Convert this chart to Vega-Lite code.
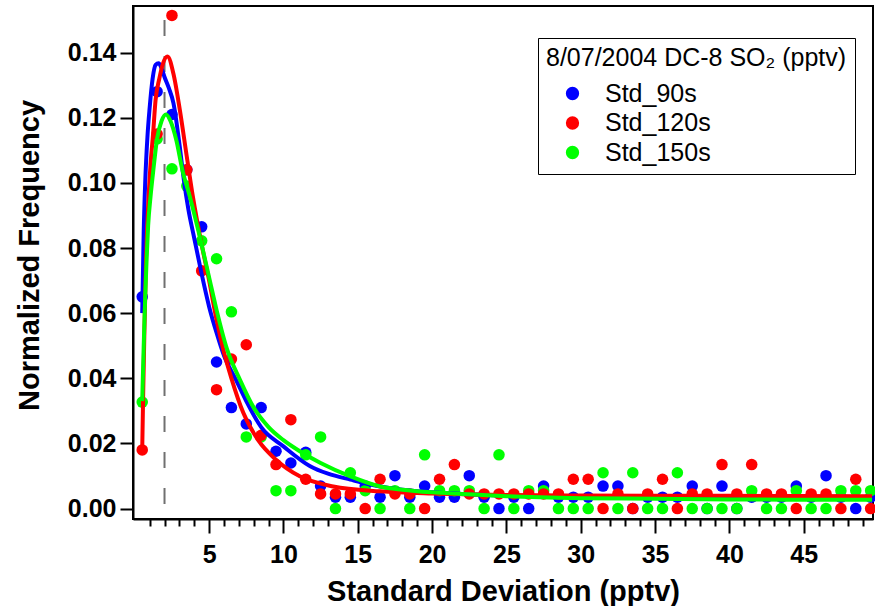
{
  "$schema": "https://vega.github.io/schema/vega-lite/v6.json",
  "width": 740,
  "height": 513,
  "autosize": {"type": "none"},
  "padding": {"left": 133, "top": 6, "right": 2, "bottom": 87},
  "background": "white",
  "config": {"view": {"stroke": "black", "strokeWidth": 2}, "font": "Liberation Sans"},
  "datasets": {
    "pts": [
      {"series": "Std_90s", "x": 0.5, "y": 0.065}, {"series": "Std_90s", "x": 1.5, "y": 0.128}, {"series": "Std_90s", "x": 2.5, "y": 0.121}, {"series": "Std_90s", "x": 3.5, "y": 0.104}, {"series": "Std_90s", "x": 4.5, "y": 0.0865},
      {"series": "Std_90s", "x": 5.5, "y": 0.045}, {"series": "Std_90s", "x": 6.5, "y": 0.031}, {"series": "Std_90s", "x": 7.5, "y": 0.026}, {"series": "Std_90s", "x": 8.5, "y": 0.031}, {"series": "Std_90s", "x": 9.5, "y": 0.0176},
      {"series": "Std_90s", "x": 10.5, "y": 0.014}, {"series": "Std_90s", "x": 11.5, "y": 0.0173}, {"series": "Std_90s", "x": 12.5, "y": 0.0069}, {"series": "Std_90s", "x": 13.5, "y": 0.0035}, {"series": "Std_90s", "x": 14.5, "y": 0.0035},
      {"series": "Std_90s", "x": 15.5, "y": 0.0069}, {"series": "Std_90s", "x": 16.5, "y": 0.0035}, {"series": "Std_90s", "x": 17.5, "y": 0.0101}, {"series": "Std_90s", "x": 18.5, "y": 0.0035}, {"series": "Std_90s", "x": 19.5, "y": 0.0069},
      {"series": "Std_90s", "x": 20.5, "y": 0.0035}, {"series": "Std_90s", "x": 21.5, "y": 0.0035}, {"series": "Std_90s", "x": 22.5, "y": 0.0101}, {"series": "Std_90s", "x": 23.5, "y": 0.0035}, {"series": "Std_90s", "x": 24.5, "y": 0},
      {"series": "Std_90s", "x": 25.5, "y": 0.0035}, {"series": "Std_90s", "x": 26.5, "y": 0}, {"series": "Std_90s", "x": 27.5, "y": 0.0069}, {"series": "Std_90s", "x": 28.5, "y": 0.0035}, {"series": "Std_90s", "x": 29.5, "y": 0.0035},
      {"series": "Std_90s", "x": 30.5, "y": 0.0035}, {"series": "Std_90s", "x": 31.5, "y": 0.0069}, {"series": "Std_90s", "x": 32.5, "y": 0.0069}, {"series": "Std_90s", "x": 33.5, "y": 0}, {"series": "Std_90s", "x": 34.5, "y": 0.0035},
      {"series": "Std_90s", "x": 35.5, "y": 0.0035}, {"series": "Std_90s", "x": 36.5, "y": 0.0035}, {"series": "Std_90s", "x": 37.5, "y": 0.0069}, {"series": "Std_90s", "x": 38.5, "y": 0}, {"series": "Std_90s", "x": 39.5, "y": 0.0069},
      {"series": "Std_90s", "x": 40.5, "y": 0}, {"series": "Std_90s", "x": 41.5, "y": 0.0035}, {"series": "Std_90s", "x": 42.5, "y": 0.0035}, {"series": "Std_90s", "x": 43.5, "y": 0.0035}, {"series": "Std_90s", "x": 44.5, "y": 0.0069},
      {"series": "Std_90s", "x": 45.5, "y": 0.0035}, {"series": "Std_90s", "x": 46.5, "y": 0.0101}, {"series": "Std_90s", "x": 47.5, "y": 0.0035}, {"series": "Std_90s", "x": 48.5, "y": 0}, {"series": "Std_90s", "x": 49.5, "y": 0.0035},

      {"series": "Std_150s", "x": 0.5, "y": 0.0327}, {"series": "Std_150s", "x": 1.5, "y": 0.1135}, {"series": "Std_150s", "x": 2.5, "y": 0.1043}, {"series": "Std_150s", "x": 3.5, "y": 0.099}, {"series": "Std_150s", "x": 4.5, "y": 0.0822},
      {"series": "Std_150s", "x": 5.5, "y": 0.0767}, {"series": "Std_150s", "x": 6.5, "y": 0.0604}, {"series": "Std_150s", "x": 7.5, "y": 0.022}, {"series": "Std_150s", "x": 8.5, "y": 0.022}, {"series": "Std_150s", "x": 9.5, "y": 0.0055},
      {"series": "Std_150s", "x": 10.5, "y": 0.0055}, {"series": "Std_150s", "x": 11.5, "y": 0.0165}, {"series": "Std_150s", "x": 12.5, "y": 0.022}, {"series": "Std_150s", "x": 13.5, "y": 0}, {"series": "Std_150s", "x": 14.5, "y": 0.011},
      {"series": "Std_150s", "x": 15.5, "y": 0.0055}, {"series": "Std_150s", "x": 16.5, "y": 0}, {"series": "Std_150s", "x": 17.5, "y": 0.0055}, {"series": "Std_150s", "x": 18.5, "y": 0}, {"series": "Std_150s", "x": 19.5, "y": 0.0165},
      {"series": "Std_150s", "x": 20.5, "y": 0.0055}, {"series": "Std_150s", "x": 21.5, "y": 0.0055}, {"series": "Std_150s", "x": 22.5, "y": 0.0055}, {"series": "Std_150s", "x": 23.5, "y": 0}, {"series": "Std_150s", "x": 24.5, "y": 0.0165},
      {"series": "Std_150s", "x": 25.5, "y": 0}, {"series": "Std_150s", "x": 26.5, "y": 0.0055}, {"series": "Std_150s", "x": 27.5, "y": 0.0055}, {"series": "Std_150s", "x": 28.5, "y": 0}, {"series": "Std_150s", "x": 29.5, "y": 0},
      {"series": "Std_150s", "x": 30.5, "y": 0}, {"series": "Std_150s", "x": 31.5, "y": 0.011}, {"series": "Std_150s", "x": 32.5, "y": 0}, {"series": "Std_150s", "x": 33.5, "y": 0.011}, {"series": "Std_150s", "x": 34.5, "y": 0},
      {"series": "Std_150s", "x": 35.5, "y": 0}, {"series": "Std_150s", "x": 36.5, "y": 0.011}, {"series": "Std_150s", "x": 37.5, "y": 0}, {"series": "Std_150s", "x": 38.5, "y": 0}, {"series": "Std_150s", "x": 39.5, "y": 0},
      {"series": "Std_150s", "x": 40.5, "y": 0}, {"series": "Std_150s", "x": 41.5, "y": 0.0055}, {"series": "Std_150s", "x": 42.5, "y": 0}, {"series": "Std_150s", "x": 43.5, "y": 0}, {"series": "Std_150s", "x": 44.5, "y": 0.0055},
      {"series": "Std_150s", "x": 45.5, "y": 0}, {"series": "Std_150s", "x": 46.5, "y": 0}, {"series": "Std_150s", "x": 47.5, "y": 0.0055}, {"series": "Std_150s", "x": 48.5, "y": 0.0055}, {"series": "Std_150s", "x": 49.5, "y": 0.0055},

      {"series": "Std_120s", "x": 0.5, "y": 0.018}, {"series": "Std_120s", "x": 1.5, "y": 0.115}, {"series": "Std_120s", "x": 2.5, "y": 0.1514}, {"series": "Std_120s", "x": 3.5, "y": 0.104}, {"series": "Std_120s", "x": 4.5, "y": 0.073},
      {"series": "Std_120s", "x": 5.5, "y": 0.0365}, {"series": "Std_120s", "x": 6.5, "y": 0.0459}, {"series": "Std_120s", "x": 7.5, "y": 0.0503}, {"series": "Std_120s", "x": 8.5, "y": 0.0225}, {"series": "Std_120s", "x": 9.5, "y": 0.0135},
      {"series": "Std_120s", "x": 10.5, "y": 0.0273}, {"series": "Std_120s", "x": 11.5, "y": 0.009}, {"series": "Std_120s", "x": 12.5, "y": 0.0045}, {"series": "Std_120s", "x": 13.5, "y": 0.0045}, {"series": "Std_120s", "x": 14.5, "y": 0.0045},
      {"series": "Std_120s", "x": 15.5, "y": 0}, {"series": "Std_120s", "x": 16.5, "y": 0.009}, {"series": "Std_120s", "x": 17.5, "y": 0.0045}, {"series": "Std_120s", "x": 18.5, "y": 0.0045}, {"series": "Std_120s", "x": 19.5, "y": 0},
      {"series": "Std_120s", "x": 20.5, "y": 0.009}, {"series": "Std_120s", "x": 21.5, "y": 0.0135}, {"series": "Std_120s", "x": 22.5, "y": 0.0045}, {"series": "Std_120s", "x": 23.5, "y": 0.0045}, {"series": "Std_120s", "x": 24.5, "y": 0.0045},
      {"series": "Std_120s", "x": 25.5, "y": 0.0045}, {"series": "Std_120s", "x": 26.5, "y": 0.0045}, {"series": "Std_120s", "x": 27.5, "y": 0.0045}, {"series": "Std_120s", "x": 28.5, "y": 0.0045}, {"series": "Std_120s", "x": 29.5, "y": 0.009},
      {"series": "Std_120s", "x": 30.5, "y": 0.009}, {"series": "Std_120s", "x": 31.5, "y": 0}, {"series": "Std_120s", "x": 32.5, "y": 0.0045}, {"series": "Std_120s", "x": 33.5, "y": 0}, {"series": "Std_120s", "x": 34.5, "y": 0.0045},
      {"series": "Std_120s", "x": 35.5, "y": 0.009}, {"series": "Std_120s", "x": 36.5, "y": 0}, {"series": "Std_120s", "x": 37.5, "y": 0.0045}, {"series": "Std_120s", "x": 38.5, "y": 0.0045}, {"series": "Std_120s", "x": 39.5, "y": 0.0135},
      {"series": "Std_120s", "x": 40.5, "y": 0.0045}, {"series": "Std_120s", "x": 41.5, "y": 0.0135}, {"series": "Std_120s", "x": 42.5, "y": 0.0045}, {"series": "Std_120s", "x": 43.5, "y": 0.0045}, {"series": "Std_120s", "x": 44.5, "y": 0},
      {"series": "Std_120s", "x": 45.5, "y": 0.0045}, {"series": "Std_120s", "x": 46.5, "y": 0.0045}, {"series": "Std_120s", "x": 47.5, "y": 0}, {"series": "Std_120s", "x": 48.5, "y": 0.009}, {"series": "Std_120s", "x": 49.5, "y": 0}
    ],
    "fit": [
      {"series": "Std_90s", "x": 0.5, "y": 0.06}, {"series": "Std_90s", "x": 0.6, "y": 0.085}, {"series": "Std_90s", "x": 0.7, "y": 0.1}, {"series": "Std_90s", "x": 0.85, "y": 0.114},
      {"series": "Std_90s", "x": 1.0, "y": 0.123}, {"series": "Std_90s", "x": 1.2, "y": 0.132}, {"series": "Std_90s", "x": 1.4, "y": 0.1362}, {"series": "Std_90s", "x": 1.6, "y": 0.1367},
      {"series": "Std_90s", "x": 1.8, "y": 0.1352}, {"series": "Std_90s", "x": 2.0, "y": 0.1325}, {"series": "Std_90s", "x": 2.3, "y": 0.129}, {"series": "Std_90s", "x": 2.6, "y": 0.1245},
      {"series": "Std_90s", "x": 3.0, "y": 0.112}, {"series": "Std_90s", "x": 3.3, "y": 0.101}, {"series": "Std_90s", "x": 3.6, "y": 0.092}, {"series": "Std_90s", "x": 4.0, "y": 0.083},
      {"series": "Std_90s", "x": 4.5, "y": 0.072}, {"series": "Std_90s", "x": 5.0, "y": 0.062}, {"series": "Std_90s", "x": 5.5, "y": 0.054}, {"series": "Std_90s", "x": 6.0, "y": 0.047},
      {"series": "Std_90s", "x": 6.8, "y": 0.0396}, {"series": "Std_90s", "x": 7.5, "y": 0.033}, {"series": "Std_90s", "x": 8.5, "y": 0.025}, {"series": "Std_90s", "x": 10.0, "y": 0.0191},
      {"series": "Std_90s", "x": 11.8, "y": 0.013}, {"series": "Std_90s", "x": 13.0, "y": 0.0107}, {"series": "Std_90s", "x": 14.5, "y": 0.0089}, {"series": "Std_90s", "x": 16.5, "y": 0.0068},
      {"series": "Std_90s", "x": 18.0, "y": 0.0058}, {"series": "Std_90s", "x": 20.0, "y": 0.005}, {"series": "Std_90s", "x": 22.0, "y": 0.0045}, {"series": "Std_90s", "x": 25.0, "y": 0.004},
      {"series": "Std_90s", "x": 30.0, "y": 0.0036}, {"series": "Std_90s", "x": 35.0, "y": 0.0034}, {"series": "Std_90s", "x": 40.0, "y": 0.0033}, {"series": "Std_90s", "x": 45.0, "y": 0.0032}, {"series": "Std_90s", "x": 49.6, "y": 0.0032},

      {"series": "Std_120s", "x": 0.5, "y": 0.018}, {"series": "Std_120s", "x": 0.56, "y": 0.034}, {"series": "Std_120s", "x": 0.65, "y": 0.055}, {"series": "Std_120s", "x": 0.75, "y": 0.075},
      {"series": "Std_120s", "x": 0.9, "y": 0.093}, {"series": "Std_120s", "x": 1.05, "y": 0.105}, {"series": "Std_120s", "x": 1.23, "y": 0.115}, {"series": "Std_120s", "x": 1.4, "y": 0.1255},
      {"series": "Std_120s", "x": 1.65, "y": 0.132}, {"series": "Std_120s", "x": 1.9, "y": 0.1367}, {"series": "Std_120s", "x": 2.2, "y": 0.1388}, {"series": "Std_120s", "x": 2.6, "y": 0.1335},
      {"series": "Std_120s", "x": 3.03, "y": 0.1224}, {"series": "Std_120s", "x": 3.5, "y": 0.108}, {"series": "Std_120s", "x": 3.9, "y": 0.096}, {"series": "Std_120s", "x": 4.5, "y": 0.081},
      {"series": "Std_120s", "x": 5.0, "y": 0.07}, {"series": "Std_120s", "x": 5.5, "y": 0.058}, {"series": "Std_120s", "x": 6.0, "y": 0.048}, {"series": "Std_120s", "x": 6.5, "y": 0.04},
      {"series": "Std_120s", "x": 7.3, "y": 0.0294}, {"series": "Std_120s", "x": 8.3, "y": 0.021}, {"series": "Std_120s", "x": 9.5, "y": 0.015}, {"series": "Std_120s", "x": 11.1, "y": 0.0099},
      {"series": "Std_120s", "x": 13.35, "y": 0.0068}, {"series": "Std_120s", "x": 16.5, "y": 0.0053}, {"series": "Std_120s", "x": 20.0, "y": 0.0046}, {"series": "Std_120s", "x": 25.0, "y": 0.0042},
      {"series": "Std_120s", "x": 30.0, "y": 0.004}, {"series": "Std_120s", "x": 40.0, "y": 0.0039}, {"series": "Std_120s", "x": 49.6, "y": 0.0038},

      {"series": "Std_150s", "x": 0.5, "y": 0.033}, {"series": "Std_150s", "x": 0.6, "y": 0.05}, {"series": "Std_150s", "x": 0.7, "y": 0.065}, {"series": "Std_150s", "x": 0.8, "y": 0.077},
      {"series": "Std_150s", "x": 0.9, "y": 0.087}, {"series": "Std_150s", "x": 1.06, "y": 0.0958}, {"series": "Std_150s", "x": 1.25, "y": 0.104}, {"series": "Std_150s", "x": 1.5, "y": 0.1135},
      {"series": "Std_150s", "x": 1.8, "y": 0.119}, {"series": "Std_150s", "x": 2.1, "y": 0.121}, {"series": "Std_150s", "x": 2.4, "y": 0.119}, {"series": "Std_150s", "x": 2.8, "y": 0.113},
      {"series": "Std_150s", "x": 3.2, "y": 0.104}, {"series": "Std_150s", "x": 3.7, "y": 0.0958}, {"series": "Std_150s", "x": 4.5, "y": 0.081}, {"series": "Std_150s", "x": 5.0, "y": 0.071},
      {"series": "Std_150s", "x": 5.5, "y": 0.061}, {"series": "Std_150s", "x": 6.2, "y": 0.049}, {"series": "Std_150s", "x": 7.07, "y": 0.0396}, {"series": "Std_150s", "x": 8.0, "y": 0.031},
      {"series": "Std_150s", "x": 9.0, "y": 0.025}, {"series": "Std_150s", "x": 10.0, "y": 0.021}, {"series": "Std_150s", "x": 11.1, "y": 0.0176}, {"series": "Std_150s", "x": 12.5, "y": 0.014},
      {"series": "Std_150s", "x": 14.5, "y": 0.0099}, {"series": "Std_150s", "x": 16.5, "y": 0.0068}, {"series": "Std_150s", "x": 18.0, "y": 0.0058}, {"series": "Std_150s", "x": 20.0, "y": 0.005},
      {"series": "Std_150s", "x": 22.0, "y": 0.0045}, {"series": "Std_150s", "x": 25.0, "y": 0.0038}, {"series": "Std_150s", "x": 30.0, "y": 0.0032}, {"series": "Std_150s", "x": 35.0, "y": 0.003},
      {"series": "Std_150s", "x": 40.0, "y": 0.0028}, {"series": "Std_150s", "x": 49.6, "y": 0.0027}
    ],
    "ref": [{"x": 2, "y": 0.15, "y2": -0.0032}]
  },
  "encoding": {
    "x": {
      "field": "x", "type": "quantitative",
      "scale": {"domain": [-0.12, 49.66], "nice": false, "zero": false},
      "axis": {
        "title": "Standard Deviation (pptv)",
        "values": [1,2,3,4,5,6,7,8,9,10,11,12,13,14,15,16,17,18,19,20,21,22,23,24,25,26,27,28,29,30,31,32,33,34,35,36,37,38,39,40,41,42,43,44,45,46,47,48,49],
        "labelExpr": "datum.value % 5 === 0 ? datum.label : ''",
        "tickSize": {"condition": {"test": "datum.value % 5 === 0", "value": 14}, "value": 7},
        "tickColor": "black", "tickWidth": 2,
        "domainColor": "black", "domainWidth": 2,
        "grid": false,
        "labelFont": "Liberation Sans", "labelFontWeight": "bold", "labelFontSize": 25, "labelColor": "black",
        "labelPadding": 9, "labelFlush": false, "labelOverlap": false,
        "titleFont": "Liberation Sans", "titleFontWeight": "bold", "titleFontSize": 29, "titleColor": "black",
        "titleY": 81, "titleBaseline": "alphabetic"
      }
    },
    "y": {
      "field": "y", "type": "quantitative",
      "scale": {"domain": [-0.0032, 0.1543], "nice": false, "zero": false},
      "axis": {
        "title": "Normalized Frequency",
        "values": [0, 0.02, 0.04, 0.06, 0.08, 0.1, 0.12, 0.14],
        "format": ".2f",
        "tickSize": 13, "tickColor": "black", "tickWidth": 2,
        "domainColor": "black", "domainWidth": 2,
        "grid": false,
        "labelFont": "Liberation Sans", "labelFontWeight": "bold", "labelFontSize": 25, "labelColor": "black",
        "labelPadding": 4,
        "titleFont": "Liberation Sans", "titleFontWeight": "bold", "titleFontSize": 29, "titleColor": "black",
        "titleX": -95, "titleY": 249, "titleBaseline": "alphabetic", "titleAngle": -90, "titleAlign": "center"
      }
    }
  },
  "layer": [
    {
      "data": {"name": "ref"},
      "mark": {"type": "rule", "strokeDash": [16, 20], "color": "#707070", "strokeWidth": 2},
      "encoding": {"y2": {"field": "y2"}}
    },
    {
      "data": {"name": "pts"},
      "mark": {"type": "point", "filled": true, "shape": "circle", "size": 133, "opacity": 1, "strokeWidth": 0},
      "encoding": {
        "fill": {
          "field": "series", "type": "nominal",
          "scale": {"domain": ["Std_90s", "Std_120s", "Std_150s"], "range": ["#0000ff", "#ff0000", "#00ff00"]},
          "legend": {
            "orient": "none", "legendX": 405, "legendY": 32,
            "title": "8/07/2004 DC-8 SO₂ (pptv)",
            "titleFont": "Liberation Sans", "titleFontSize": 25, "titleFontWeight": "normal", "titleColor": "black",
            "titleLimit": 500, "titlePadding": 10,
            "labelFont": "Liberation Sans", "labelFontSize": 25, "labelColor": "black", "labelLimit": 400,
            "symbolType": "circle", "symbolSize": 177, "symbolOffset": 14, "symbolStrokeWidth": 0,
            "labelOffset": 20, "rowPadding": 3.5,
            "strokeColor": "black", "fillColor": "white", "padding": 8
          }
        }
      }
    },
    {
      "data": {"name": "fit"},
      "mark": {"type": "line", "interpolate": "monotone", "strokeWidth": 4},
      "encoding": {
        "stroke": {
          "field": "series", "type": "nominal",
          "scale": {"domain": ["Std_90s", "Std_120s", "Std_150s"], "range": ["#0000ff", "#ff0000", "#00ff00"]},
          "legend": null
        }
      }
    }
  ]
}
